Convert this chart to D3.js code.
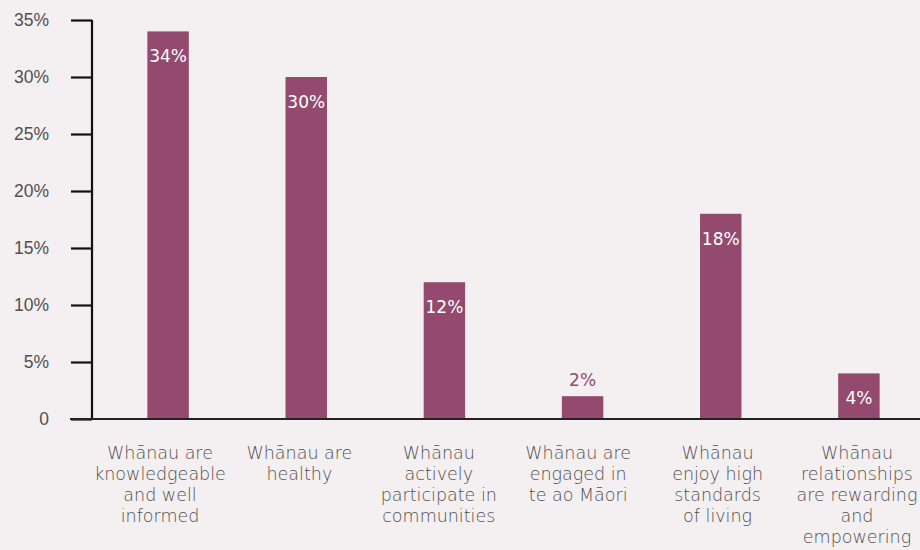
<!DOCTYPE html>
<html>
<head>
<meta charset="utf-8">
<script src="https://cdn.jsdelivr.net/npm/d3@7"></script>
<style>
  html, body { margin: 0; padding: 0; background: #f4eff1; }
  svg { display: block; font-family: "DejaVu Sans", "Open Sans", sans-serif; }
</style>
</head>
<body>
<svg id="chart" width="920" height="550"></svg>
<script>
// Share of responses by whānau outcome
const categories = [
  ["Whānau are", "knowledgeable", "and well", "informed"],
  ["Whānau are", "healthy"],
  ["Whānau", "actively", "participate in", "communities"],
  ["Whānau are", "engaged in", "te ao Māori"],
  ["Whānau", "enjoy high", "standards", "of living"],
  ["Whānau", "relationships", "are rewarding", "and", "empowering"]
];
const values = [34, 30, 12, 2, 18, 4];
const yTicks = [0, 5, 10, 15, 20, 25, 30, 35];
const yTickLabels = ["0", "5%", "10%", "15%", "20%", "25%", "30%", "35%"];

const barColor = "#934a6e";
const textColor = "#505050";

const svg = d3.select("#chart");

// Bar positions
const x = d3.scaleBand()
  .domain(d3.range(values.length))
  .range([99, 928])
  .paddingInner(0.7)
  .paddingOuter(0.35);

// Category label positions (evenly spread under the bars)
const xLabel = d3.scalePoint()
  .domain(d3.range(categories.length))
  .range([160, 857]);

const y = d3.scaleLinear().domain([0, 35]).range([419, 20]);

// Y axis
const yAxis = svg.append("g")
  .attr("transform", "translate(92,0)")
  .call(d3.axisLeft(y).tickValues(yTicks).tickSize(21).tickPadding(22)
    .tickFormat((d, i) => yTickLabels[i]));
yAxis.select(".domain").attr("stroke", "#111").attr("stroke-width", 2.2)
  .attr("d", `M0,${y(35)}V${y(0)}`);
yAxis.selectAll(".tick line").attr("stroke", "#111").attr("stroke-width", 2.2);
yAxis.selectAll(".tick text")
  .attr("fill", textColor).attr("font-size", 17.5).attr("font-weight", 200);

// Bars
svg.append("g").selectAll("rect")
  .data(values)
  .join("rect")
  .attr("x", (d, i) => x(i))
  .attr("width", x.bandwidth())
  .attr("y", d => y(d))
  .attr("height", d => y(0) - y(d))
  .attr("fill", barColor);

// Baseline
svg.append("line")
  .attr("x1", 70).attr("x2", 920)
  .attr("y1", y(0)).attr("y2", y(0))
  .attr("stroke", "#222").attr("stroke-width", 2);

// Value labels: inside the bar, or above it when the bar is too short
svg.append("g").selectAll("text")
  .data(values)
  .join("text")
  .attr("x", (d, i) => x(i) + x.bandwidth() / 2)
  .attr("y", d => (y(0) - y(d) < 35) ? y(d) - 10 : y(d) + 31)
  .attr("text-anchor", "middle")
  .attr("font-size", 17)
  .attr("font-weight", 400)
  .attr("fill", d => (y(0) - y(d) < 35) ? barColor : "#ffffff")
  .text(d => d + "%");

// Category labels
const cat = svg.append("g").selectAll("text")
  .data(categories)
  .join("text")
  .attr("x", (d, i) => xLabel(i))
  .attr("y", 459)
  .attr("text-anchor", "middle")
  .attr("font-size", 17.5)
  .attr("font-weight", 200)
  .attr("fill", textColor);
cat.selectAll("tspan")
  .data(d => d)
  .join("tspan")
  .attr("x", function() { return this.parentNode.getAttribute("x"); })
  .attr("dy", (d, i) => i === 0 ? 0 : 21)
  .text(d => d);
</script>
</body>
</html>
